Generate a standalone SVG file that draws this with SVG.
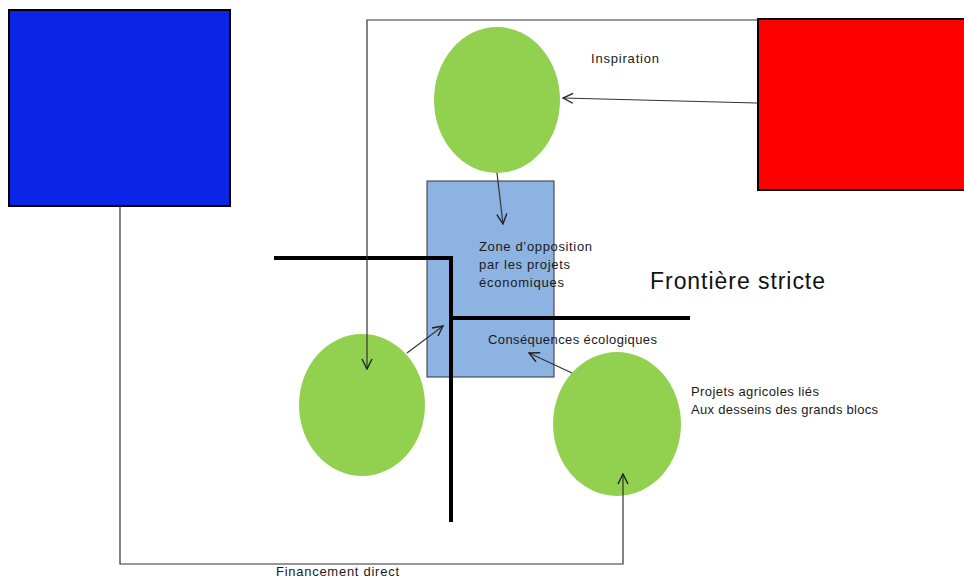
<svg xmlns="http://www.w3.org/2000/svg" width="964" height="578" viewBox="0 0 964 578">
<defs>
<marker id="arr" viewBox="0 0 12 12" refX="11" refY="6" markerWidth="12" markerHeight="12" markerUnits="userSpaceOnUse" orient="auto">
<path d="M1,1 L11,6 L1,11" fill="none" stroke="#222" stroke-width="1.4"/>
</marker>
<style>
.ell{fill:#92d050;}
.thin{fill:none;stroke:#333;stroke-width:1.2;}
.thick{fill:none;stroke:#000;stroke-width:4;}
.t{font-family:"Liberation Sans",Arial,sans-serif;font-size:13px;fill:#1a1a1a;}
</style>
</defs>
<rect width="964" height="578" fill="#fff"/>
<g id="blue-box"><rect x="9" y="10" width="221" height="196" fill="#0b25e8" stroke="#000" stroke-width="2"/></g>
<g id="red-box"><rect x="758" y="19" width="210" height="171" fill="#ff0000" stroke="#000" stroke-width="2"/></g>
<g id="zone"><rect x="427" y="181" width="127" height="196" fill="#8db3e2" stroke="#333" stroke-width="1"/>
<text class="t" x="479" y="251" textLength="113">Zone d’opposition</text>
<text class="t" x="479" y="269" textLength="91">par les projets</text>
<text class="t" x="479" y="287" textLength="85">économiques</text></g>
<g id="top-ellipse"><ellipse class="ell" cx="497" cy="100" rx="63" ry="73"/></g>
<g id="left-ellipse"><ellipse class="ell" cx="362" cy="405" rx="63" ry="71"/></g>
<g id="right-ellipse"><ellipse class="ell" cx="617" cy="424" rx="64" ry="72"/></g>
<g id="frontier">
<polyline class="thick" points="274,258 451,258 451,522"/>
<line class="thick" x1="451" y1="318" x2="690" y2="318"/>
<text x="650" y="289" font-family="Liberation Sans,Arial,sans-serif" font-size="23" fill="#111" textLength="175">Frontière stricte</text>
</g>
<g id="connectors">
<polyline class="thin" points="758,20 367,20 367,369" marker-end="url(#arr)"/>
<polyline class="thin" points="120,206 120,564 623,564 623,474" marker-end="url(#arr)"/>
<line class="thin" x1="757" y1="103" x2="563" y2="98" marker-end="url(#arr)"/>
<line class="thin" x1="497" y1="173" x2="503" y2="224" marker-end="url(#arr)"/>
<line class="thin" x1="407" y1="353" x2="443" y2="326" marker-end="url(#arr)"/>
<line class="thin" x1="572" y1="373" x2="529" y2="353" marker-end="url(#arr)"/>
</g>
<g id="labels">
<text class="t" x="591" y="63" textLength="68">Inspiration</text>
<text class="t" x="488" y="344" textLength="169">Conséquences écologiques</text>
<text class="t" x="691" y="396" textLength="128">Projets agricoles liés</text>
<text class="t" x="691" y="414" textLength="187">Aux desseins des grands blocs</text>
<text class="t" x="276" y="576" textLength="123">Financement direct</text>
</g>
</svg>
